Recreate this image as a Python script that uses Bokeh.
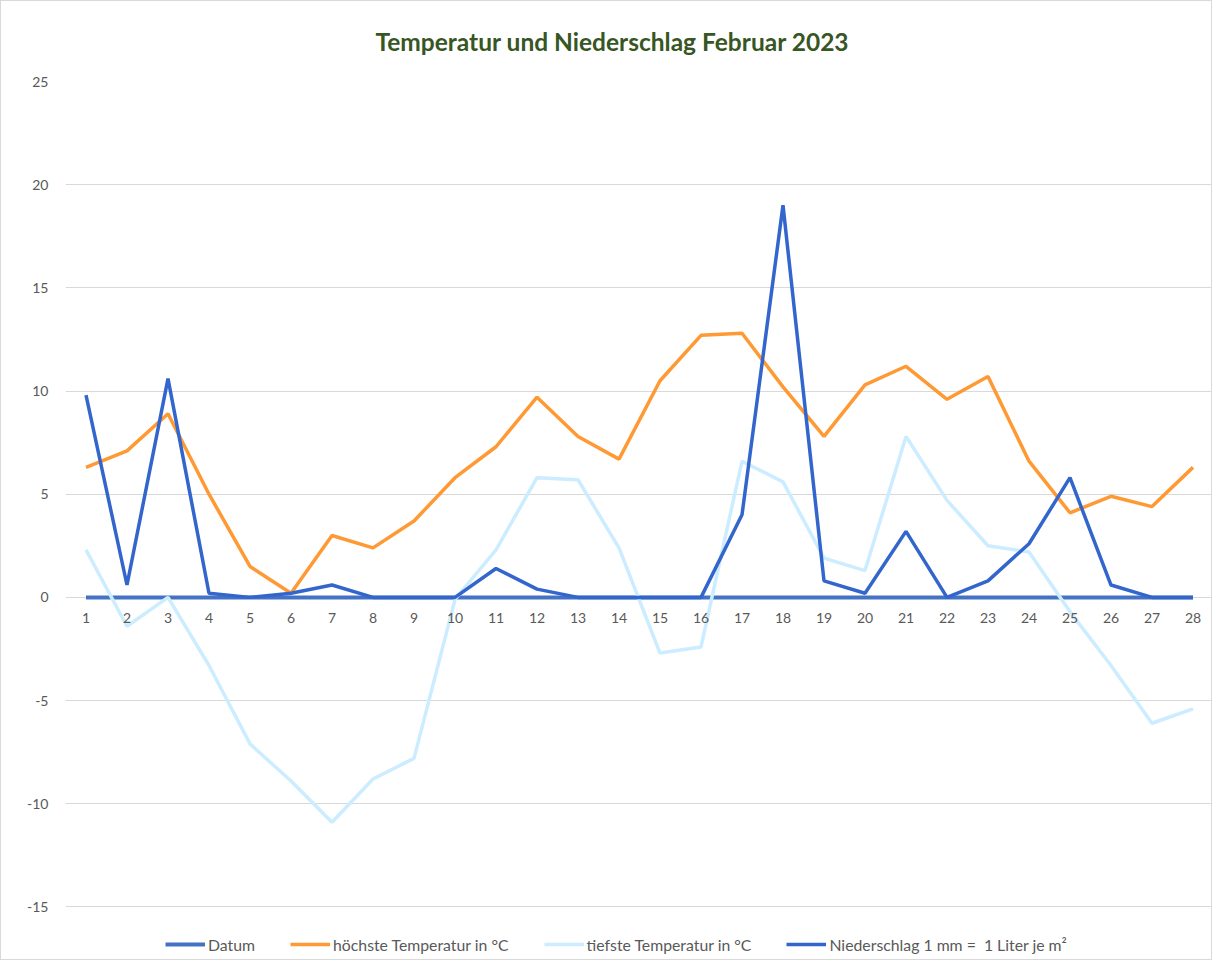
from bokeh.plotting import figure
from bokeh.models import Legend, LegendItem, FixedTicker, ColumnDataSource
from bokeh.core.properties import value
from bokeh.embed import file_html
from bokeh.resources import INLINE

days = list(range(1, 29))
datum = [0] * 28
t_max = [6.3, 7.1, 8.9, 5.0, 1.5, 0.2, 3.0, 2.4, 3.7, 5.8, 7.3, 9.7, 7.8, 6.7,
         10.5, 12.7, 12.8, 10.2, 7.8, 10.3, 11.2, 9.6, 10.7, 6.6, 4.1, 4.9, 4.4, 6.3]
t_min = [2.3, -1.4, 0.0, -3.3, -7.1, -8.9, -10.9, -8.8, -7.8, -0.1, 2.3, 5.8, 5.7, 2.4,
         -2.7, -2.4, 6.6, 5.6, 1.9, 1.3, 7.8, 4.7, 2.5, 2.2, -0.7, -3.3, -6.1, -5.4]
rain = [9.8, 0.6, 10.6, 0.2, 0.0, 0.2, 0.6, 0.0, 0.0, 0.0, 1.4, 0.4, 0.0, 0.0,
        0.0, 0.0, 4.0, 19.0, 0.8, 0.2, 3.2, 0.0, 0.8, 2.6, 5.8, 0.6, 0.0, 0.0]
y_ticks = [-15, -10, -5, 0, 5, 10, 15, 20, 25]
x_labels = [str(d) for d in days]

FONT = "Lato"
GREY = "#595959"

p = figure(width=1212, height=960, output_backend="svg", toolbar_location=None,
           x_range=(0.5, 28.5), y_range=(-17.5, 25),
           min_border_left=64, min_border_right=0, min_border_top=80, min_border_bottom=3)
p.styles = {"border": "1px solid #D9D9D9"}
p.outline_line_color = None

p.title.text = "Temperatur und Niederschlag Februar 2023"
p.title.align = "left"
p.title.vertical_align = "top"
p.title.offset = 310
p.title.text_font = FONT
p.title.text_font_size = "24.5px"
p.title.text_font_style = "bold"
p.title.text_color = "#375623"
p.title.standoff = 48

p.xaxis.visible = False
p.xgrid.visible = False
p.ygrid.grid_line_color = "#D9D9D9"
p.ygrid.grid_line_width = 1
p.yaxis.ticker = FixedTicker(ticks=y_ticks)
p.yaxis.major_label_overrides = {t: str(t) for t in y_ticks}
p.yaxis.axis_line_color = None
p.yaxis.major_tick_line_color = None
p.yaxis.minor_tick_line_color = None
p.yaxis.major_label_text_font = FONT
p.yaxis.major_label_text_font_size = "14px"
p.yaxis.major_label_text_color = GREY
p.yaxis.major_label_standoff = 11

r_datum = p.line(days, datum, line_color="#4472C4", line_width=4)
r_max = p.line(days, t_max, line_color="#FF9933", line_width=3.5)
r_min = p.line(days, t_min, line_color="#CCECFF", line_width=3.5)
r_rain = p.line(days, rain, line_color="#3366CC", line_width=3.5)

src = ColumnDataSource(dict(x=days, y=[0] * 28, t=x_labels))
p.text("x", "y", text="t", source=src, text_align="center", text_baseline="middle",
       y_offset=21, text_font=value(FONT), text_font_size="14px", text_color=GREY)

legend = Legend(items=[
    LegendItem(label="Datum", renderers=[r_datum]),
    LegendItem(label="höchste Temperatur in °C", renderers=[r_max]),
    LegendItem(label="tiefste Temperatur in °C", renderers=[r_min]),
    LegendItem(label="Niederschlag 1 mm =  1 Liter je m²", renderers=[r_rain]),
], orientation="horizontal", location=(100, 4))
legend.label_text_font = FONT
legend.label_text_font_size = "15.8px"
legend.label_text_color = GREY
legend.glyph_width = 40
legend.glyph_height = 20
legend.label_height = 20
legend.label_standoff = 3
legend.spacing = 35
legend.border_line_color = None
legend.background_fill_alpha = 0
legend.margin = 0
legend.padding = 0
p.add_layout(legend)

open("out.html", "w").write(file_html(p, INLINE))
